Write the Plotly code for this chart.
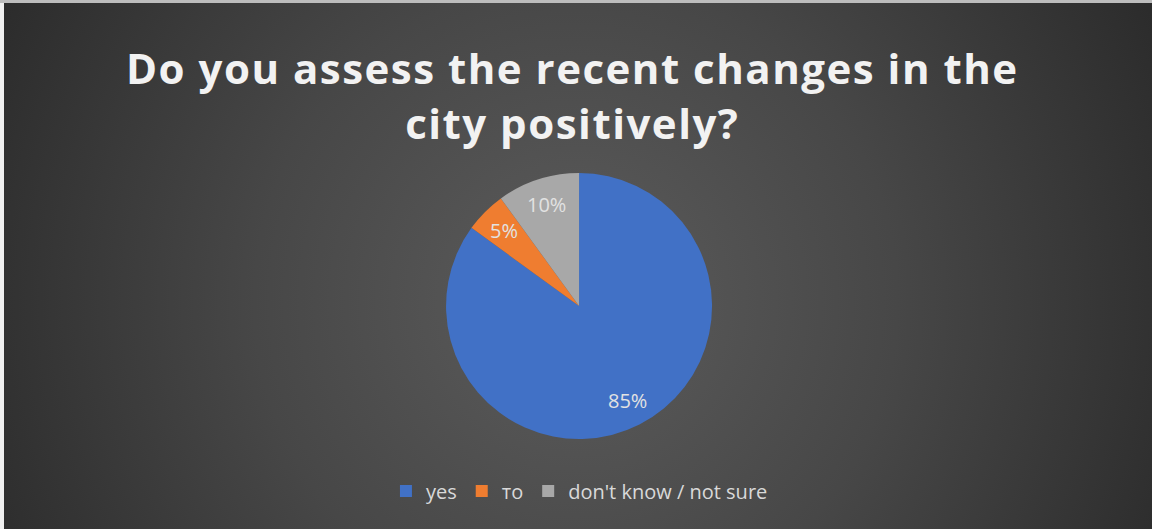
import base64
import math
import plotly.graph_objects as go

# ---- data ----
categories = ["yes", "то", "don't know / not sure"]
values = [85, 5, 10]
colors = ["#4171c6", "#ef7d30", "#a8a8a8"]
title_lines = ["Do you assess the recent changes in the", "city positively?"]

W, H = 1152, 529

svg = f'''<svg xmlns="http://www.w3.org/2000/svg" width="{W}" height="{H}" viewBox="0 0 {W} {H}">
<defs><radialGradient id="g" cx="{W/2}" cy="{H*0.57}" r="{W*0.62}" gradientUnits="userSpaceOnUse">
<stop offset="0" stop-color="#5c5c5c"/><stop offset="0.45" stop-color="#474747"/><stop offset="1" stop-color="#262626"/>
</radialGradient></defs>
<rect width="{W}" height="{H}" fill="url(#g)"/></svg>'''
bg_src = "data:image/svg+xml;base64," + base64.b64encode(svg.encode()).decode()

pie_x = [0.3872, 0.6181]
pie_y = [0.170, 0.673]

fig = go.Figure(go.Pie(
    labels=categories,
    values=values,
    sort=False,
    direction="clockwise",
    rotation=0,
    marker=dict(colors=colors, line=dict(width=0)),
    textinfo="none",
    domain=dict(x=pie_x, y=pie_y),
    hoverinfo="label+percent",
))

# data labels along each slice's bisector (derived from the values)
cx = (pie_x[0] + pie_x[1]) / 2 * W
cy = (pie_y[0] + pie_y[1]) / 2 * H
R = (pie_y[1] - pie_y[0]) / 2 * H
total = sum(values)
cum = 0
annotations = []
for v in values:
    mid = (cum + v / 2) / total * 2 * math.pi
    cum += v
    r = 0.8 * R
    px = cx + r * math.sin(mid)
    py = cy + r * math.cos(mid)
    annotations.append(dict(
        x=px / W, y=py / H, xref="paper", yref="paper",
        xanchor="center", yanchor="middle",
        text=f"{round(v / total * 100)}%", showarrow=False,
        font=dict(family="Open Sans, sans-serif", size=20, color="#e2e2e2"),
    ))

annotations.append(dict(
    x=0.497, y=(H - 37) / H, xref="paper", yref="paper",
    xanchor="center", yanchor="top", showarrow=False,
    text="<br>".join(f'<span style="letter-spacing:1.5px">{t}</span>' for t in title_lines),
    font=dict(family="Open Sans, sans-serif", size=42, color="#f2f2f2", weight="bold"),
))

fig.update_layout(
    width=W, height=H,
    margin=dict(l=0, r=0, t=0, b=0),
    paper_bgcolor="#404040",
    plot_bgcolor="rgba(0,0,0,0)",
    legend=dict(
        orientation="h",
        x=0.503, xanchor="center",
        y=0.072, yanchor="middle",
        font=dict(family="Open Sans, sans-serif", size=20, color="#d9d9d9"),
        itemwidth=30,
        bgcolor="rgba(0,0,0,0)",
    ),
    annotations=annotations,
    images=[dict(source=bg_src, xref="paper", yref="paper", x=0, y=1,
                 sizex=1, sizey=1, sizing="stretch", layer="below")],
    shapes=[
        dict(type="rect", xref="paper", yref="paper", x0=0, x1=4/W, y0=0, y1=1,
             fillcolor="#f0f0f0", line=dict(width=0)),
        dict(type="rect", xref="paper", yref="paper", x0=0, x1=1, y0=1-3/H, y1=1,
             fillcolor="#bdbdbd", line=dict(width=0)),
    ],
)

fig.write_html(
    "out.html",
    config={"displayModeBar": False},
    post_script="document.body.style.margin='0px';document.body.style.overflow='hidden';",
)
